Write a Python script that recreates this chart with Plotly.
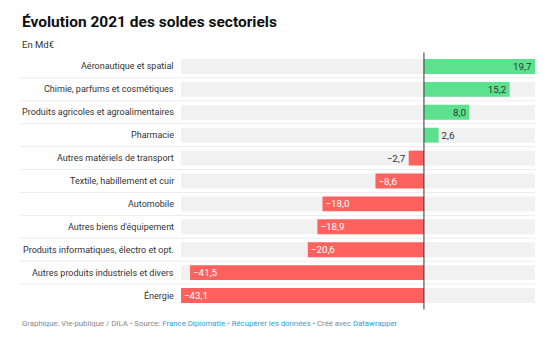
import plotly.graph_objects as go

# Sector balances 2021, in billions of euros
categories = [
    "Aéronautique et spatial",
    "Chimie, parfums et cosmétiques",
    "Produits agricoles et agroalimentaires",
    "Pharmacie",
    "Autres matériels de transport",
    "Textile, habillement et cuir",
    "Automobile",
    "Autres biens d'équipement",
    "Produits informatiques, électro et opt.",
    "Autres produits industriels et divers",
    "Énergie",
]
values = [19.7, 15.2, 8.0, 2.6, -2.7, -8.6, -18.0, -18.9, -20.6, -41.5, -43.1]

GREEN = "#5ce28f"
RED = "#ff625e"
TRACK = "#f1f1f1"
DARK = "#333333"

xmin, xmax = min(values), max(values)

def fmt(v):
    s = f"{abs(v):.1f}".replace(".", ",")
    return ("\u2212" + s) if v < 0 else s

# Small bars carry their label outside, long ones inside at the tip
positions = ["outside" if abs(v) < 5 else "inside" for v in values]
text_colors = []
for v, p in zip(values, positions):
    if p == "outside":
        text_colors.append(DARK)
    elif v < 0:
        text_colors.append("white")
    else:
        text_colors.append(DARK)

fig = go.Figure()

# light grey track behind every bar
fig.add_trace(go.Bar(
    y=categories,
    x=[xmax - xmin] * len(categories),
    base=[xmin] * len(categories),
    orientation="h",
    marker=dict(color=TRACK, line=dict(width=0)),
    hoverinfo="skip",
    showlegend=False,
))

fig.add_trace(go.Bar(
    y=categories,
    x=values,
    orientation="h",
    marker=dict(color=[GREEN if v >= 0 else RED for v in values], line=dict(width=0)),
    text=[fmt(v) for v in values],
    textposition=positions,
    insidetextanchor="end",
    constraintext="none",
    cliponaxis=False,
    textfont=dict(family="Roboto", size=9.8, color=text_colors),
    showlegend=False,
))

n = len(categories)
LEFT = -0.455  # left edge of the text column, in paper units
shapes = []
# row separators
for i in range(n - 1):
    shapes.append(dict(
        type="line", xref="paper", yref="y",
        x0=LEFT, x1=1.0, y0=i + 0.5, y1=i + 0.5,
        line=dict(color="#ececec", width=1), layer="below",
    ))
# zero line
shapes.append(dict(
    type="line", xref="x", yref="paper",
    x0=0, x1=0, y0=-0.01, y1=1.01,
    line=dict(color=DARK, width=1), layer="above",
))

link = "#2a9fd6"
grey = "#888888"
footer = (
    f"<span style='color:{grey}'>Graphique: Vie-publique / DILA • Source: </span>"
    f"<span style='color:{link}'>France Diplomatie</span>"
    f"<span style='color:{grey}'> • </span>"
    f"<span style='color:{link}'>Récupérer les données</span>"
    f"<span style='color:{grey}'> • Créé avec </span>"
    f"<span style='color:{link}'>Datawrapper</span>"
)

annotations = [
    dict(text=c, xref="paper", yref="y", x=0, y=c, xshift=-5,
         xanchor="right", yanchor="middle", showarrow=False,
         font=dict(family="Roboto", size=9.0, color=DARK))
    for c in categories
]
annotations += [
    dict(text="<b>Évolution 2021 des soldes sectoriels</b>",
         xref="paper", yref="paper", x=LEFT, y=1.0, yshift=33,
         xanchor="left", yanchor="middle", showarrow=False,
         font=dict(family="Roboto", size=15.5, color="#111111")),
    dict(text="En Md€",
         xref="paper", yref="paper", x=LEFT, y=1.0, yshift=11,
         xanchor="left", yanchor="middle", showarrow=False,
         font=dict(family="Roboto", size=9.5, color=DARK)),
    dict(text=footer,
         xref="paper", yref="paper", x=LEFT, y=0.0, yshift=-16,
         xanchor="left", yanchor="middle", showarrow=False,
         font=dict(family="Roboto", size=7.8, color=grey)),
]

fig.update_layout(
    width=558, height=337,
    margin=dict(l=181, r=23, t=55, b=30, autoexpand=False),
    paper_bgcolor="white", plot_bgcolor="white",
    barmode="overlay", bargap=0.35,
    font=dict(family="Roboto", color=DARK, size=10),
    xaxis=dict(range=[xmin, xmax], visible=False, fixedrange=True),
    yaxis=dict(
        autorange="reversed", showgrid=False, zeroline=False,
        showline=False, ticks="", showticklabels=False, automargin=False,
    ),
    shapes=shapes,
    annotations=annotations,
)

fig.write_html("out.html")
